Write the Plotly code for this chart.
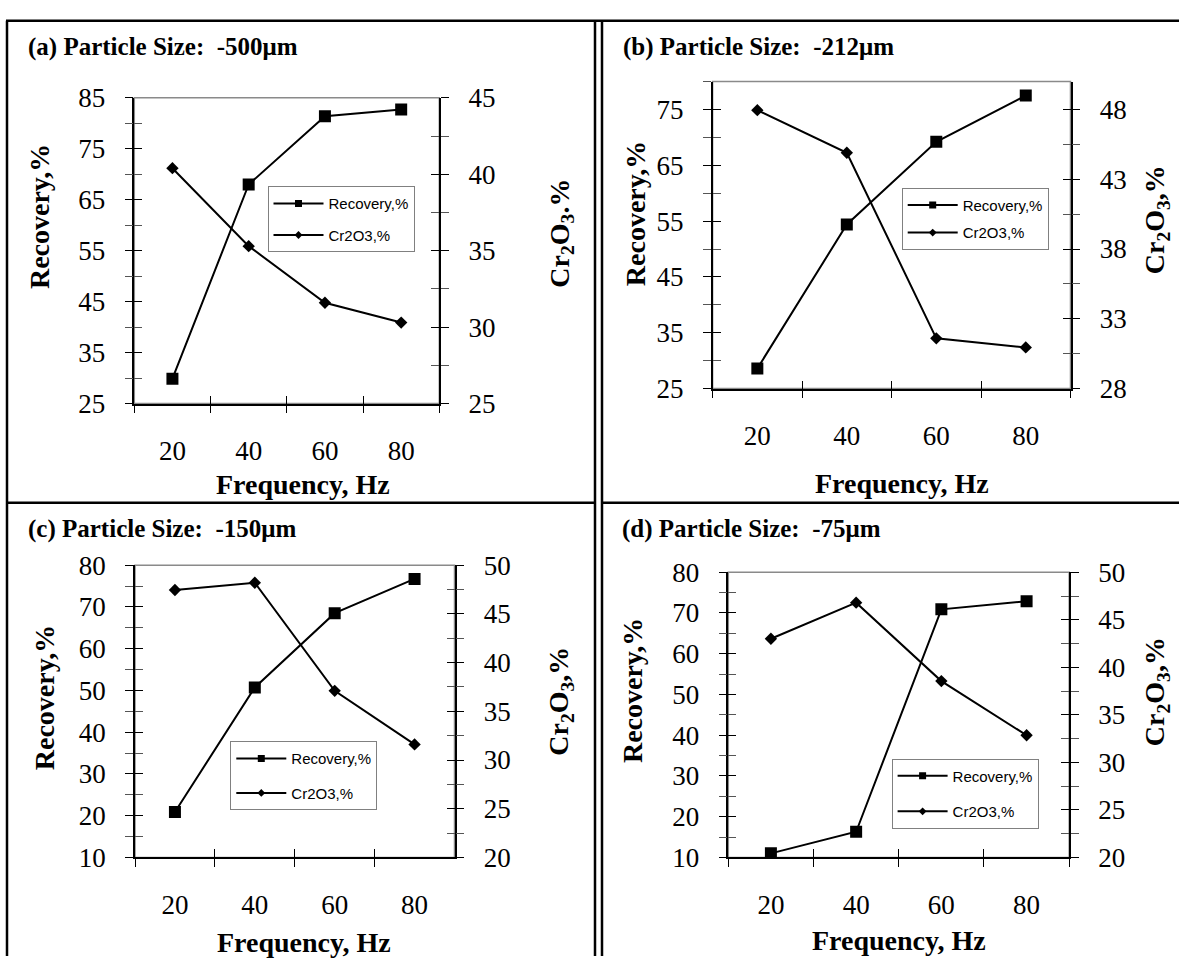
import plotly.graph_objects as go

# ---------------- data ----------------
freq = ["20", "40", "60", "80"]
panel_titles = [
    "(a) Particle Size:  -500μm",
    "(b) Particle Size:  -212μm",
    "(c) Particle Size:  -150μm",
    "(d) Particle Size:  -75μm",
]
series_names = ["Recovery,%", "Cr2O3,%"]
recovery_a = [29.9, 68.0, 81.4, 82.7]
cr2o3_a = [40.4, 35.3, 31.6, 30.3]
recovery_b = [28.6, 54.4, 69.2, 77.5]
cr2o3_b = [47.95, 44.9, 31.6, 30.95]
recovery_c = [20.9, 50.7, 68.5, 76.7]
cr2o3_c = [47.45, 48.2, 37.1, 31.6]
recovery_d = [11.0, 16.3, 70.9, 72.9]
cr2o3_d = [43.0, 46.8, 38.55, 32.85]

rec_ranges = [(25, 85), (25, 80), (10, 80), (10, 80)]
cr_ranges = [(25, 45), (28, 50), (20, 50), (20, 50)]
cr_titles = ["Cr<sub>2</sub>O<sub>3</sub>.%", "Cr<sub>2</sub>O<sub>3</sub>,%",
             "Cr<sub>2</sub>O<sub>3</sub>,%", "Cr<sub>2</sub>O<sub>3</sub>,%"]

recovery = [recovery_a, recovery_b, recovery_c, recovery_d]
cr2o3 = [cr2o3_a, cr2o3_b, cr2o3_c, cr2o3_d]

# ---------------- layout geometry (pixels) ----------------
W, H = 1179, 971


def fx(p):
    return p / W


def fy(p):
    return 1 - p / H


geo = [
    dict(x0=134.3, x1=439.3, y0=85.5, y1=401.0, title=(26, 33), yt=(39.5, 208), y2t=(560.6, 225),
         xt=(303, 484), leg=(267.5, 176.7), gap=9),
    dict(x0=712.6, x1=1070.5, y0=68.7, y1=385.5, title=(620.5, 33), yt=(635.5, 205), y2t=(1156.7, 211),
         xt=(902, 483), leg=(901.7, 178.3), gap=5),
    dict(x0=135.0, x1=454.5, y0=567.7, y1=869.3, title=(25.6, 530), yt=(44, 705), y2t=(560.6, 708),
         xt=(304, 957), leg=(230.3, 749.3), gap=12),
    dict(x0=728.3, x1=1069.2, y0=575.0, y1=869.3, title=(620, 530), yt=(632.6, 697), y2t=(1156.7, 698),
         xt=(898.5, 955), leg=(891.6, 767.3), gap=13),
]

SERIF = "Liberation Serif"
SANS = "Liberation Sans"
TICKFONT = dict(family=SERIF, size=27, color="black")
TITLEFONT = dict(family=SERIF, size=28, color="black")
TICKLEN = 8


def axname(kind, k):
    return f"{kind}axis" if k == 1 else f"{kind}axis{k}"


def axref(kind, k):
    return kind if k == 1 else f"{kind}{k}"


fig = go.Figure()
layout = dict(
    width=W, height=H, margin=dict(l=0, r=0, t=0, b=0),
    paper_bgcolor="white", plot_bgcolor="white", showlegend=True,
)
annotations = []
shapes = []

for p in range(4):
    g = geo[p]
    xm, xi = 2 * p + 1, 2 * p + 2
    yl, yli, yr, yri = 4 * p + 1, 4 * p + 2, 4 * p + 3, 4 * p + 4
    xdom = [fx(g["x0"]), fx(g["x1"])]
    ydom = [fy(g["y1"]), fy(g["y0"])]
    rr, cr = rec_ranges[p], cr_ranges[p]

    layout[axname("x", xm)] = dict(
        type="category", range=[-0.5, 3.5], domain=xdom, anchor=axref("y", yl),
        tickson="boundaries", ticks="outside", ticklen=TICKLEN, tickcolor="black",
        showline=True, linecolor="black", linewidth=1.5, showgrid=False, zeroline=False,
        tickfont=TICKFONT, ticklabelstandoff=22, fixedrange=True,
    )
    layout[axname("x", xi)] = dict(
        type="linear", range=[-0.5, 3.5], overlaying=axref("x", xm), anchor=axref("y", yl),
        tick0=-0.5, dtick=1, ticks="inside", ticklen=TICKLEN, tickcolor="black",
        showticklabels=False, showline=False, showgrid=False, zeroline=False, fixedrange=True,
    )
    common_y = dict(showgrid=False, zeroline=False, fixedrange=True, tickfont=TICKFONT,
                    tickcolor="black", ticklen=TICKLEN)
    layout[axname("y", yl)] = dict(
        common_y, range=list(rr), domain=ydom, anchor=axref("x", xm), side="left",
        tick0=rr[0], dtick=10, ticks="outside",
        minor=dict(ticks="outside", ticklen=TICKLEN, tick0=rr[0], dtick=5, tickcolor="#555555"),
        showline=True, linecolor="black", linewidth=1.5, ticklabelstandoff=14,
    )
    layout[axname("y", yli)] = dict(
        common_y, range=list(rr), overlaying=axref("y", yl), anchor=axref("x", xm), side="left",
        tick0=rr[0], dtick=10, ticks="inside",
        minor=dict(ticks="inside", ticklen=TICKLEN, tick0=rr[0], dtick=5, tickcolor="#555555"),
        showticklabels=False, showline=False,
    )
    layout[axname("y", yr)] = dict(
        common_y, range=list(cr), overlaying=axref("y", yl), anchor=axref("x", xm), side="right",
        tick0=cr[0], dtick=5, ticks="outside",
        minor=dict(ticks="outside", ticklen=TICKLEN, tick0=cr[0], dtick=2.5, tickcolor="#555555"),
        showline=True, linecolor="black", linewidth=1.5, ticklabelstandoff=14,
    )
    layout[axname("y", yri)] = dict(
        common_y, range=list(cr), overlaying=axref("y", yl), anchor=axref("x", xm), side="right",
        tick0=cr[0], dtick=5, ticks="inside",
        minor=dict(ticks="inside", ticklen=TICKLEN, tick0=cr[0], dtick=2.5, tickcolor="#555555"),
        showticklabels=False, showline=False,
    )

    # empty helper traces so the inner-tick overlay axes get drawn
    for xa, ya in [(xi, yl), (xm, yli), (xm, yri)]:
        fig.add_trace(go.Scatter(x=[None], y=[None], mode="markers", xaxis=axref("x", xa),
                                 yaxis=axref("y", ya), showlegend=False, hoverinfo="skip"))

    # gray plot-area frame (top edge stays gray; axes lines drawn above)
    shapes.append(dict(type="rect", xref=f"{axref('x', xm)} domain", yref=f"{axref('y', yl)} domain",
                       x0=0, x1=1, y0=0, y1=1, line=dict(color="#8a8a8a", width=1.5), layer="below"))

    lg = "legend" if p == 0 else f"legend{p + 1}"

    # data traces
    fig.add_trace(go.Scatter(
        x=freq, y=recovery[p], mode="lines+markers", name=series_names[0],
        line=dict(color="black", width=2), marker=dict(symbol="square", size=12, color="black"),
        xaxis=axref("x", xm), yaxis=axref("y", yl), showlegend=False, hoverinfo="skip",
    ))
    fig.add_trace(go.Scatter(
        x=freq, y=cr2o3[p], mode="lines+markers", name=series_names[1],
        line=dict(color="black", width=2), marker=dict(symbol="diamond", size=9.5, color="black"),
        xaxis=axref("x", xm), yaxis=axref("y", yr), showlegend=False, hoverinfo="skip",
    ))
    # legend entries (smaller symbols, like the original legend)
    fig.add_trace(go.Scatter(
        x=[None], y=[None], mode="lines+markers", name=series_names[0],
        line=dict(color="black", width=2), marker=dict(symbol="square", size=7, color="black"),
        xaxis=axref("x", xm), yaxis=axref("y", yl), legend=lg, legendgroup=f"r{p}",
    ))
    fig.add_trace(go.Scatter(
        x=[None], y=[None], mode="lines+markers", name=series_names[1],
        line=dict(color="black", width=2), marker=dict(symbol="diamond", size=6, color="black"),
        xaxis=axref("x", xm), yaxis=axref("y", yr), legend=lg, legendgroup=f"c{p}",
    ))
    layout[lg] = dict(
        x=fx(g["leg"][0]), y=fy(g["leg"][1]), xanchor="left", yanchor="top",
        bgcolor="white", bordercolor="#808080", borderwidth=1,
        font=dict(family=SANS, size=15, color="black"), tracegroupgap=g["gap"],
        itemwidth=50, traceorder="grouped",
    )

    # texts
    annotations.append(dict(text=f"<b>{panel_titles[p]}</b>", xref="paper", yref="paper",
                            x=fx(g["title"][0]), y=fy(g["title"][1]), xanchor="left", yanchor="middle",
                            showarrow=False, font=dict(family=SERIF, size=25, color="black")))
    annotations.append(dict(text="<b>Recovery,%</b>", xref="paper", yref="paper", textangle=-90,
                            x=fx(g["yt"][0]), y=fy(g["yt"][1]), xanchor="center", yanchor="middle",
                            showarrow=False, font=TITLEFONT))
    annotations.append(dict(text=f"<b>{cr_titles[p]}</b>", xref="paper", yref="paper", textangle=-90,
                            x=fx(g["y2t"][0]), y=fy(g["y2t"][1]), xanchor="center", yanchor="middle",
                            showarrow=False, font=TITLEFONT))
    annotations.append(dict(text="<b>Frequency, Hz</b>", xref="paper", yref="paper",
                            x=fx(g["xt"][0]), y=fy(g["xt"][1]), xanchor="center", yanchor="middle",
                            showarrow=False, font=TITLEFONT))

# panel borders
BL = dict(color="black", width=2.5)
for (x0, y0, x1, y1) in [(6, 6, 1179, 6), (7, 6, 7, 971), (7, 503.3, 595, 503.3), (602, 503.3, 1179, 503.3),
                         (595, 6, 595, 971), (602, 6, 602, 971)]:
    shapes.append(dict(type="line", xref="paper", yref="paper", x0=fx(x0), x1=fx(x1), y0=fy(y0), y1=fy(y1),
                       line=BL, layer="above"))

layout["annotations"] = annotations
layout["shapes"] = shapes
fig.update_layout(**layout)

fig.write_html("out.html", config=dict(displayModeBar=False),
               post_script="document.body.style.margin='0';document.body.style.overflow='hidden';")
